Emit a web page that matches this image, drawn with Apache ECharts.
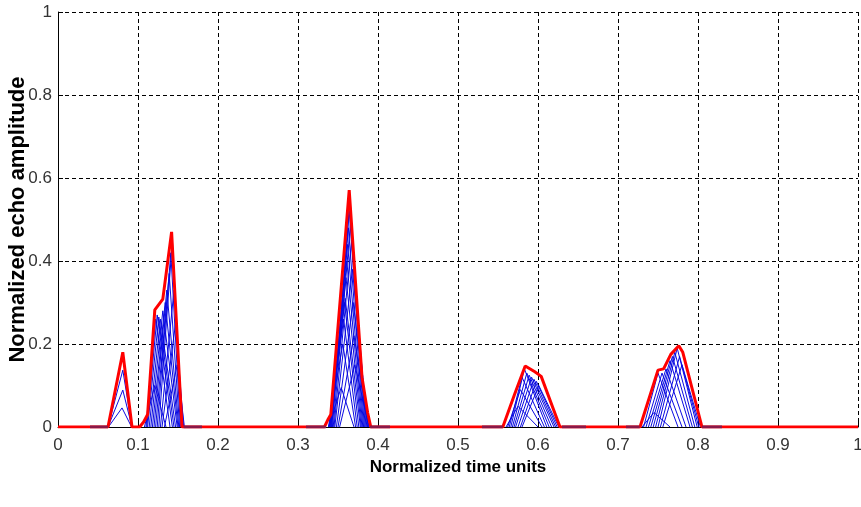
<!DOCTYPE html>
<html>
<head>
<meta charset="utf-8">
<script src="https://cdn.jsdelivr.net/npm/echarts@6/dist/echarts.min.js"></script>
<style>
html,body{margin:0;padding:0;background:#fff;}
#chart{width:861px;height:507px;}
</style>
</head>
<body>
<div id="chart"></div>
<script>
// ---- data ----
var xTickLabels = ['0','0.1','0.2','0.3','0.4','0.5','0.6','0.7','0.8','0.9','1'];
var yTickLabels = ['0','0.2','0.4','0.6','0.8','1'];

// red envelope [x, y]
var envelope = [[0,0],[0.0625,0],[0.081,0.18],[0.0925,0],[0.102,0],[0.107,0.012],[0.112,0.03],
  [0.121,0.282],[0.131,0.308],[0.142,0.47],[0.155,0],[0.333,0],[0.338,0.02],[0.341,0.03],
  [0.364,0.571],[0.38,0.12],[0.387,0.035],[0.391,0],[0.556,0],[0.571,0.08],[0.584,0.147],
  [0.596,0.133],[0.604,0.122],[0.6275,0],[0.7275,0],[0.75,0.137],[0.757,0.14],[0.766,0.175],
  [0.776,0.196],[0.781,0.18],[0.805,0],[1,0]];

// dark overlapped baseline stretches [start, end]
var baseTails = [[0.04,0.0625],[0.157,0.18],[0.31,0.335],[0.39,0.415],[0.53,0.556],[0.63,0.66],[0.71,0.727],[0.805,0.83]];

// blue echo pulses: [start, peakX, peakY, end]
var group1Pulses = [[0.0625,0.081,0.137,0.0925],[0.0625,0.081,0.089,0.0925],[0.063,0.080,0.046,0.092]];
var group2Pulses = [[0.108,0.121,0.10,0.135],[0.110,0.122,0.26,0.140],[0.111,0.124,0.27,0.143],
  [0.112,0.126,0.265,0.145],[0.114,0.128,0.26,0.147],[0.116,0.131,0.28,0.149],[0.118,0.134,0.30,0.150],
  [0.120,0.136,0.33,0.151],[0.122,0.139,0.37,0.152],[0.124,0.141,0.42,0.153],[0.126,0.143,0.45,0.154],
  [0.128,0.145,0.33,0.156],[0.130,0.147,0.25,0.157],[0.133,0.149,0.15,0.158]];
var group3Pulses = [[0.338,0.354,0.095,0.370],[0.338,0.356,0.20,0.372],[0.339,0.357,0.26,0.374],
  [0.339,0.358,0.30,0.376],[0.340,0.359,0.31,0.378],[0.340,0.360,0.36,0.379],[0.341,0.361,0.40,0.380],
  [0.341,0.362,0.44,0.381],[0.342,0.363,0.48,0.382],[0.342,0.364,0.52,0.383],[0.343,0.365,0.55,0.384],
  [0.344,0.366,0.50,0.385],[0.345,0.367,0.45,0.386],[0.346,0.368,0.38,0.387],[0.348,0.369,0.30,0.388],
  [0.350,0.370,0.22,0.388],[0.352,0.371,0.15,0.389]];
var group4Pulses = [[0.560,0.575,0.05,0.600],[0.562,0.578,0.09,0.605],[0.564,0.580,0.12,0.608],
  [0.566,0.583,0.14,0.611],[0.568,0.586,0.13,0.614],[0.570,0.589,0.125,0.617],[0.572,0.592,0.12,0.620],
  [0.575,0.595,0.115,0.622],[0.578,0.598,0.11,0.624],[0.580,0.601,0.10,0.626]];
var group5Pulses = [[0.730,0.745,0.035,0.765],[0.732,0.750,0.13,0.775],[0.735,0.755,0.13,0.780],
  [0.738,0.760,0.14,0.785],[0.741,0.765,0.16,0.790],[0.744,0.768,0.17,0.793],[0.747,0.771,0.18,0.796],
  [0.750,0.774,0.19,0.799],[0.753,0.777,0.17,0.801],[0.756,0.780,0.15,0.803]];

// ---- build chart ----
var series = [];
[group1Pulses, group2Pulses, group3Pulses, group4Pulses, group5Pulses].forEach(function (g) {
  g.forEach(function (p) {
    series.push({
      type: 'line', symbol: 'none', silent: true, z: 2,
      lineStyle: { color: '#0a0ae0', width: 1 },
      data: [[p[0], 0], [p[1], p[2]], [p[3], 0]]
    });
  });
});
series.push({
  type: 'line', symbol: 'none', silent: true, z: 3,
  lineStyle: { color: '#ff0000', width: 3 },
  data: envelope
});
baseTails.forEach(function (t) {
  series.push({
    type: 'line', symbol: 'none', silent: true, z: 4,
    lineStyle: { color: '#8a1848', width: 3 },
    data: [[t[0], 0], [t[1], 0]]
  });
});

var tickFont = { fontFamily: 'Liberation Sans, Arial, sans-serif', fontSize: 17, color: '#333' };
var chart = echarts.init(document.getElementById('chart'), null, { renderer: 'canvas' });
chart.setOption({
  animation: false,
  backgroundColor: '#fff',
  grid: { left: 58, right: 3, top: 12, bottom: 80, containLabel: false, outerBoundsMode: 'none' },
  xAxis: {
    type: 'value', min: 0, max: 1, interval: 0.1,
    name: 'Normalized time units', nameLocation: 'middle', nameGap: 30,
    nameTextStyle: { fontFamily: 'Liberation Sans, Arial, sans-serif', fontWeight: 'bold', fontSize: 17, color: '#000' },
    axisLine: { onZero: false, lineStyle: { color: '#000', width: 1 } },
    axisTick: { inside: true, length: 5, lineStyle: { color: '#000' } },
    axisLabel: Object.assign({ margin: 10, formatter: function (v) { return xTickLabels[Math.round(v * 10)]; } }, tickFont),
    splitLine: { show: true, lineStyle: { color: '#000', width: 1, type: [4, 3] } }
  },
  yAxis: {
    type: 'value', min: 0, max: 1, interval: 0.2,
    name: 'Normalized echo amplitude', nameLocation: 'middle', nameGap: 29, nameMoveOverlap: false,
    nameTextStyle: { fontFamily: 'Liberation Sans, Arial, sans-serif', fontWeight: 'bold', fontSize: 22, color: '#000' },
    axisLine: { show: true, lineStyle: { color: '#000', width: 1 } },
    axisTick: { show: true, inside: true, length: 5, lineStyle: { color: '#000' } },
    axisLabel: Object.assign({ margin: 6, formatter: function (v) { return yTickLabels[Math.round(v * 5)]; } }, tickFont),
    splitLine: { show: true, lineStyle: { color: '#000', width: 1, type: [4, 3] } }
  },
  series: series
});
</script>
</body>
</html>
